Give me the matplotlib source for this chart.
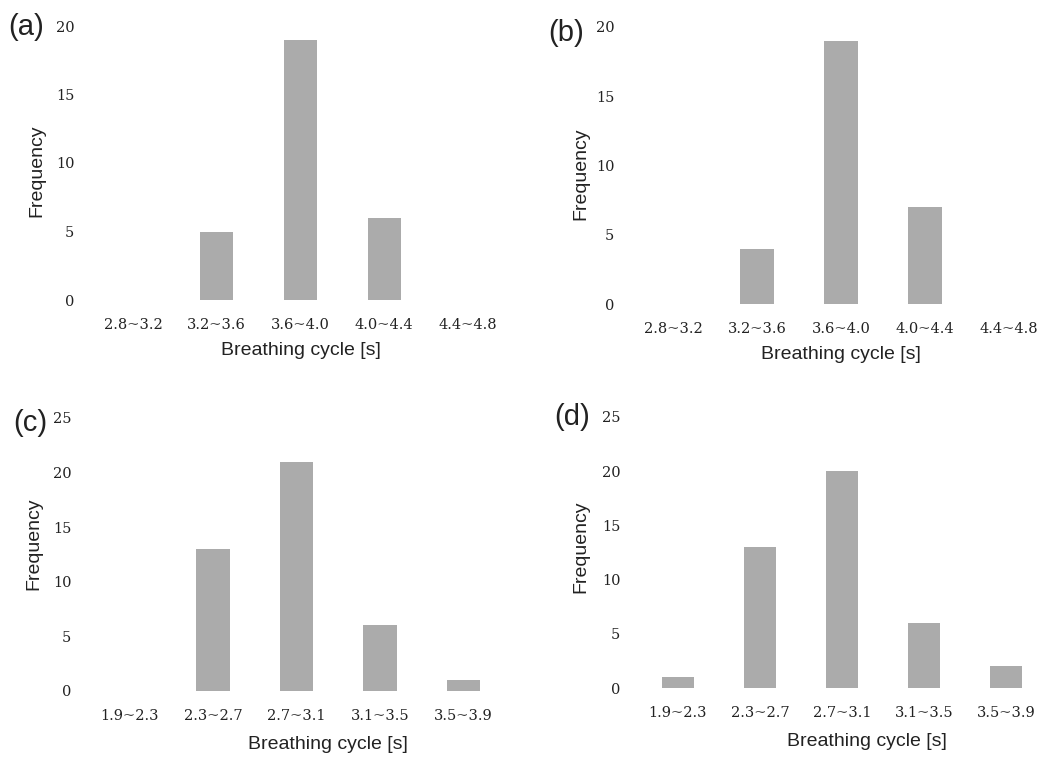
import matplotlib
matplotlib.use("Agg")
import matplotlib.pyplot as plt
import numpy as np

W, H = 1051, 757

labels_ab = ["2.8~3.2", "3.2~3.6", "3.6~4.0", "4.0~4.4", "4.4~4.8"]
labels_cd = ["1.9~2.3", "2.3~2.7", "2.7~3.1", "3.1~3.5", "3.5~3.9"]

freq_a = [0, 5, 19, 6, 0]
freq_b = [0, 4, 19, 7, 0]
freq_c = [0, 13, 21, 6, 1]
freq_d = [1, 13, 20, 6, 2]

BAR = "#ababab"

fig = plt.figure(figsize=(W / 100, H / 100), dpi=100)


def px_axes(left, top, right, bottom):
    # pixel box -> figure fraction
    return [left / W, 1 - bottom / H, (right - left) / W, (bottom - top) / H]


def panel(box, labels, vals, ymax, tag, tagxy, xlab_x, xlab_y, ylab_x, ylab_y):
    ax = fig.add_axes(px_axes(*box))
    x = np.arange(len(labels))
    ax.bar(x, vals, width=0.4, color=BAR)
    ax.set_xlim(-0.5, len(labels) - 0.5)
    ax.set_ylim(0, ymax)
    ax.set_yticks(np.arange(0, ymax + 1, 5))
    ax.set_xticks(x)
    ax.set_xticklabels(labels)
    for s in ax.spines.values():
        s.set_visible(False)
    ax.tick_params(length=0, labelsize=10.5)
    ax.tick_params(axis="y", pad=12)
    ax.tick_params(axis="x", pad=13)
    for t in ax.get_xticklabels() + ax.get_yticklabels():
        t.set_fontfamily("DejaVu Serif")
        t.set_color("#222222")
    ax.set_xlabel("Breathing cycle [s]", fontsize=14, family="Liberation Sans",
                  color="#222222")
    ax.set_ylabel("Frequency", fontsize=14, family="Liberation Sans",
                  color="#222222")
    ax.xaxis.set_label_coords(xlab_x, xlab_y)
    ax.yaxis.set_label_coords(ylab_x, ylab_y)
    fig.text(tagxy[0] / W, 1 - tagxy[1] / H, tag, fontsize=21,
             family="Liberation Sans", color="#222222",
             ha="center", va="center")
    return ax


panel((91, 26, 510, 300), labels_ab, freq_a, 20, "(a)", (26, 27),
      0.5, -0.153, -0.11, 0.47)
panel((631, 27, 1051, 304), labels_ab, freq_b, 20, "(b)", (566, 33),
      0.5, -0.152, -0.098, 0.47)
panel((88, 418, 505, 691), labels_cd, freq_c, 25, "(c)", (30, 423),
      0.575, -0.165, -0.11, 0.54)
panel((637, 417, 1047, 688), labels_cd, freq_d, 25, "(d)", (572, 417),
      0.56, -0.166, -0.115, 0.52)

fig.savefig("out.png", dpi=100)
